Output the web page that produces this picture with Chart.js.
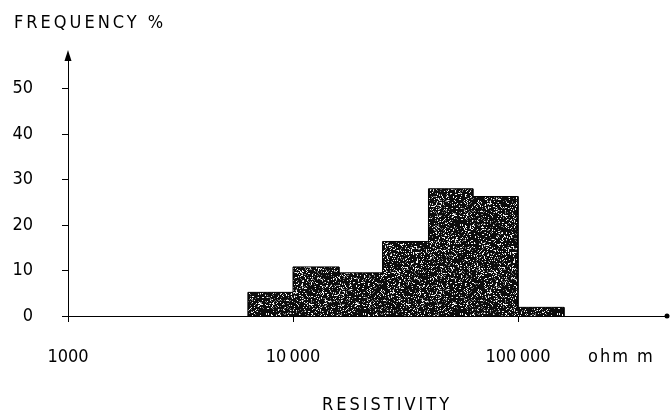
<!DOCTYPE html>
<html>
<head>
<meta charset="utf-8">
<title>Resistivity histogram</title>
<script src="https://cdn.jsdelivr.net/npm/chart.js@4.4.1/dist/chart.umd.min.js"></script>
<style>
  html, body { margin: 0; padding: 0; background: #fff; }
  #grafico { display: block; }
</style>
</head>
<body>
<canvas id="grafico" width="670" height="417"></canvas>
<script>
// Class limits (ohm m) and frequency (%) of each class
const binEdges = [6300, 10000, 16000, 25000, 40000, 63000, 100000, 160000];
const frequency = [5.2, 10.8, 9.5, 16.4, 28, 26.3, 1.9];

const xTickValues = [1000, 10000, 100000];
const xTickLabels = ['1000', '10\u2009000', '100\u2009000'];
const yTickValues = [0, 10, 20, 30, 40, 50];

const FONT = '"DejaVu Sans Condensed", "DejaVu Sans", sans-serif';

// Histogram outline as a closed step path: (edge, 0) -> tops -> (last edge, 0)
function contornoHistograma(bordes, valores) {
    const puntos = [{ x: bordes[0], y: 0 }];
    valores.forEach((v, i) => {
        puntos.push({ x: bordes[i], y: v });
        puntos.push({ x: bordes[i + 1], y: v });
    });
    puntos.push({ x: bordes[bordes.length - 1], y: 0 });
    return puntos;
}

// Grainy dark fill, like a printed screen tone
function tramaGranulada() {
    const c = document.createElement('canvas');
    c.width = 97; c.height = 89;
    const g = c.getContext('2d');
    const img = g.createImageData(c.width, c.height);
    const hash = (n) => {
        n = (n ^ 61) ^ (n >>> 16);
        n = n + (n << 3);
        n = n ^ (n >>> 4);
        n = Math.imul(n, 0x27d4eb2d);
        n = n ^ (n >>> 15);
        return (n >>> 0) / 4294967296;
    };
    for (let i = 0; i < c.width * c.height; i++) {
        const h = hash(i * 7919 + 13);
        let v = 12;
        if (h < 0.13) v = 245;
        else if (h < 0.22) v = 120;
        img.data[i * 4] = v;
        img.data[i * 4 + 1] = v;
        img.data[i * 4 + 2] = v;
        img.data[i * 4 + 3] = 255;
    }
    g.putImageData(img, 0, 0);
    return document.getElementById('grafico').getContext('2d').createPattern(c, 'repeat');
}

// Arrow heads on the axes and the free-standing labels
const anotaciones = {
    id: 'anotaciones',
    afterDraw(chart) {
        const ctx = chart.ctx;
        const area = chart.chartArea;
        ctx.save();
        ctx.fillStyle = '#000';

        // arrow on top of the y axis
        ctx.beginPath();
        ctx.moveTo(area.left, area.top - 7);
        ctx.lineTo(area.left - 3.5, area.top + 4);
        ctx.lineTo(area.left + 3.5, area.top + 4);
        ctx.closePath();
        ctx.fill();

        // end of the x axis
        ctx.beginPath();
        ctx.arc(area.right - 1, area.bottom, 2.5, 0, Math.PI * 2);
        ctx.fill();

        ctx.font = '18px ' + FONT;
        ctx.textBaseline = 'middle';
        ctx.letterSpacing = '3px';
        ctx.textAlign = 'left';
        ctx.fillText('FREQUENCY %', 14, 23);

        ctx.textAlign = 'center';
        ctx.fillText('RESISTIVITY', 387, 405);

        ctx.letterSpacing = '2px';
        ctx.textAlign = 'left';
        ctx.fillText('ohm m', 588, 357);
        ctx.restore();
    }
};

new Chart(document.getElementById('grafico'), {
    type: 'line',
    data: {
        datasets: [{
            label: 'Frequency',
            data: contornoHistograma(binEdges, frequency),
            backgroundColor: tramaGranulada(),
            borderColor: '#000',
            borderWidth: 1,
            fill: 'origin',
            pointRadius: 0,
            tension: 0,
        }],
    },
    options: {
        responsive: false,
        animation: false,
        layout: { padding: { left: 8, top: 57, right: 2, bottom: 0 } },
        plugins: {
            legend: { display: false },
            tooltip: { enabled: false },
        },
        scales: {
            x: {
                type: 'logarithmic',
                min: 1000,
                max: 464000,
                afterBuildTicks: (scale) => {
                    scale.ticks = xTickValues.map(v => ({ value: v }));
                },
                afterFit: (scale) => { scale.height = 101; },
                ticks: {
                    color: '#000',
                    font: { family: FONT, size: 18 },
                    padding: 25,
                    maxRotation: 0,
                    autoSkip: false,
                    callback: (value) => {
                        const i = xTickValues.indexOf(value);
                        return i >= 0 ? xTickLabels[i] : '';
                    },
                },
                grid: { drawOnChartArea: false, drawTicks: true, tickLength: 6, color: '#000' },
                border: { display: true, color: '#000', width: 1 },
            },
            y: {
                min: 0,
                max: 57,
                afterBuildTicks: (scale) => {
                    scale.ticks = yTickValues.map(v => ({ value: v }));
                },
                afterFit: (scale) => { scale.width = 60; },
                ticks: {
                    color: '#000',
                    font: { family: FONT, size: 18 },
                    padding: 29,
                },
                grid: { drawOnChartArea: false, drawTicks: true, tickLength: 6, color: '#000' },
                border: { display: true, color: '#000', width: 1 },
            },
        },
    },
    plugins: [anotaciones],
});
</script>
</body>
</html>
